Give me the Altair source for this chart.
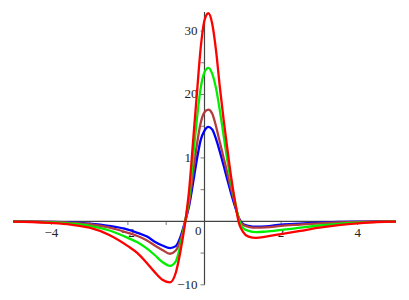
import altair as alt
import pandas as pd

x_vals = [-5, -4.5, -4, -3.5, -3, -2.5, -2, -1.75, -1.5, -1.3, -1.1, -0.9, -0.75,
          -0.63, -0.52, -0.4, -0.3, -0.2, -0.1, 0, 0.1, 0.2, 0.3, 0.4, 0.5, 0.6,
          0.7, 0.8, 0.9, 1.0, 1.15, 1.35, 1.6, 2, 2.5, 3, 3.5, 4, 4.5, 5]

blue = [-0.01, -0.03, -0.07, -0.15, -0.35, -0.7, -1.3, -1.8, -2.4, -3.2, -3.8, -4.2, -3.9,
        -2.5, -0.3, 2.5, 6, 9.7, 12.8, 14.3, 14.9, 14.5, 13, 11, 8.8, 6.5,
        4.3, 2.3, 0.5, -0.4, -0.7, -0.85, -0.8, -0.5, -0.35, -0.2, -0.1, -0.05, -0.02, -0.01]

brown = [-0.02, -0.05, -0.1, -0.22, -0.45, -0.95, -1.8, -2.3, -3.0, -3.8, -4.5, -5.1, -4.6,
         -3.0, -0.5, 3, 7.5, 12, 15.5, 17.2, 17.6, 17, 15, 12.5, 10, 7.5,
         5, 2.7, 0.4, -0.5, -0.85, -1.0, -0.95, -0.7, -0.5, -0.3, -0.17, -0.08, -0.03, -0.01]

green = [-0.03, -0.07, -0.15, -0.35, -0.7, -1.4, -2.6, -3.3, -4.3, -5.3, -6.4, -7.0, -6.3,
         -3.8, -0.5, 4, 10, 16, 21, 23.5, 24.2, 23.3, 21, 17.5, 13.5, 9.5,
         6, 3, 0.2, -1.0, -1.5, -1.7, -1.6, -1.35, -1.0, -0.65, -0.38, -0.2, -0.08, -0.03]

red = [-0.05, -0.1, -0.25, -0.5, -1.0, -2.1, -3.9, -5.0, -6.6, -8.0, -9.2, -9.6, -8.1,
       -4.8, -0.8, 5, 12.5, 20, 27.3, 31.7, 32.8, 31.2, 27, 21.2, 16, 11.3,
       6.8, 3.0, -0.3, -1.6, -2.4, -2.6, -2.4, -2.0, -1.5, -1.0, -0.6, -0.3, -0.1, -0.05]

series_names = ["blue", "brown", "green", "red"]
series_colors = ["#0000ff", "#b43c3c", "#00ee00", "#ff0000"]
series_values = [blue, brown, green, red]

x_ticks = [-4, -3, -2, -1, 1, 2, 3, 4]
y_ticks = [-10, -5, 5, 10, 15, 20, 25, 30]
x_labels = [-4, -2, 2, 4]
y_labels = [-10, 10, 20, 30]

x_domain = [-5, 5]
y_domain = [-10.5, 33]

xs = alt.Scale(domain=x_domain, nice=False, zero=False)
ys = alt.Scale(domain=y_domain, nice=False, zero=False)

def fmt(v):
    return ("\u2212" + str(abs(v))) if v < 0 else str(v)

axis_color = "#444444"
label_color = "#222222"
font = "Liberation Serif"
fsize = 13

xaxis = alt.Chart(pd.DataFrame({"x": [x_domain[0]], "x2": [x_domain[1]], "y": [0]})).mark_rule(
    color=axis_color, strokeWidth=1.2
).encode(x=alt.X("x:Q", scale=xs, axis=None), x2="x2:Q", y=alt.Y("y:Q", scale=ys, axis=None))

yaxis = alt.Chart(pd.DataFrame({"x": [0], "y": [-10], "y2": [y_domain[1]]})).mark_rule(
    color=axis_color, strokeWidth=1.2
).encode(x=alt.X("x:Q", scale=xs, axis=None), y=alt.Y("y:Q", scale=ys, axis=None), y2="y2:Q")

xt = alt.Chart(pd.DataFrame({"x": x_ticks, "y": [0] * len(x_ticks)})).mark_tick(
    orient="vertical", size=4, thickness=1, color=axis_color, yOffset=1.5
).encode(x=alt.X("x:Q", scale=xs, axis=None), y=alt.Y("y:Q", scale=ys, axis=None))

yt = alt.Chart(pd.DataFrame({"x": [0] * len(y_ticks), "y": y_ticks})).mark_tick(
    orient="horizontal", size=4, thickness=1, color=axis_color, xOffset=-2
).encode(x=alt.X("x:Q", scale=xs, axis=None), y=alt.Y("y:Q", scale=ys, axis=None))

xl = alt.Chart(pd.DataFrame({"x": x_labels, "y": [0] * len(x_labels),
                             "t": [fmt(v) for v in x_labels]})).mark_text(
    font=font, fontSize=fsize, color=label_color, baseline="middle", align="center", dy=12
).encode(x=alt.X("x:Q", scale=xs, axis=None), y=alt.Y("y:Q", scale=ys, axis=None), text="t:N")

zero_l = alt.Chart(pd.DataFrame({"x": [0], "y": [0], "t": ["0"]})).mark_text(
    font=font, fontSize=fsize, color=label_color, baseline="middle", align="right", dx=-3, dy=10
).encode(x=alt.X("x:Q", scale=xs, axis=None), y=alt.Y("y:Q", scale=ys, axis=None), text="t:N")

yl = alt.Chart(pd.DataFrame({"x": [0] * len(y_labels), "y": y_labels,
                             "t": [fmt(v) for v in y_labels]})).mark_text(
    font=font, fontSize=fsize, color=label_color, baseline="middle", align="right", dx=-7
).encode(x=alt.X("x:Q", scale=xs, axis=None), y=alt.Y("y:Q", scale=ys, axis=None), text="t:N")

layers = [xaxis, yaxis, xt, yt, xl, zero_l, yl]
for name, col, vals in zip(series_names, series_colors, series_values):
    d = pd.DataFrame({"x": x_vals, "y": vals, "o": list(range(len(x_vals)))})
    layers.append(
        alt.Chart(d).mark_line(color=col, strokeWidth=2.3, interpolate="monotone").encode(
            x=alt.X("x:Q", scale=xs, axis=None),
            y=alt.Y("y:Q", scale=ys, axis=None),
            order="o:Q",
        )
    )

chart = alt.layer(*layers).properties(
    width=393, height=284, padding=0,
    autosize=alt.AutoSizeParams(type="fit", contains="padding"),
).configure_view(stroke=None)

chart.save("out.html", embed_options={"renderer": "svg", "actions": False})
